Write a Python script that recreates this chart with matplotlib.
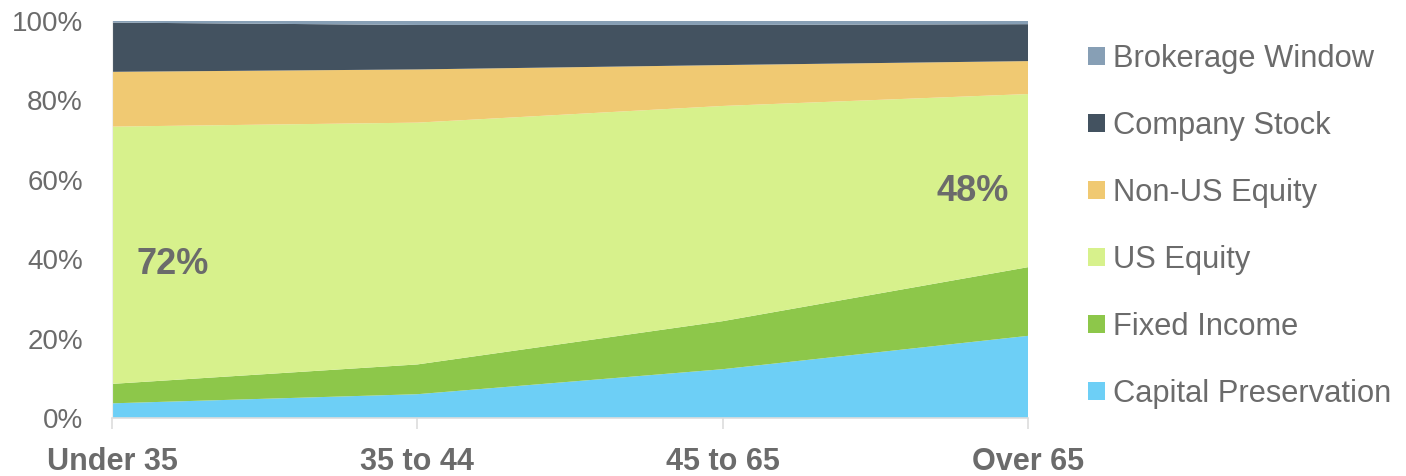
import matplotlib.pyplot as plt
from matplotlib.patches import Patch

# asset allocation by participant age band (share of balances, %)
age_bands = ["Under 35", "35 to 44", "45 to 65", "Over 65"]
capital_preservation = [3.7, 6.0, 12.3, 20.7]
fixed_income = [4.9, 7.5, 12.1, 17.3]
us_equity = [64.8, 60.9, 54.2, 43.6]
non_us_equity = [13.8, 13.4, 10.3, 8.3]
company_stock = [12.4, 11.2, 10.1, 9.3]
brokerage_window = [0.4, 1.0, 1.0, 0.8]

series_names = ["Capital Preservation", "Fixed Income", "US Equity",
                "Non-US Equity", "Company Stock", "Brokerage Window"]
colors = ["#6dcff6", "#8dc74a", "#d7f18c", "#f0c972", "#435260", "#879fb5"]

callouts = [("72%", 0.2, 38.6), ("48%", 2.82, 57.0)]

plt.rcParams["font.family"] = ["Liberation Sans", "DejaVu Sans"]
gray = "#6b6b6b"

fig = plt.figure(figsize=(14.06, 4.76), dpi=100)
ax = fig.add_axes([0.0797, 0.1218, 0.6515, 0.8341])

x = list(range(len(age_bands)))
ax.stackplot(x, capital_preservation, fixed_income, us_equity, non_us_equity,
             company_stock, brokerage_window, colors=colors, linewidth=0)

for txt, cx, cy in callouts:
    ax.text(cx, cy, txt, ha="center", va="center", fontsize=26,
            fontweight="bold", color=gray)

ax.set_xlim(0, 3)
ax.set_ylim(0, 100)
ax.set_xticks(x)
ax.set_xticklabels(age_bands, fontsize=22, fontweight="bold", color=gray)
ax.set_yticks([0, 20, 40, 60, 80, 100])
ax.set_yticklabels([f"{v}%" for v in [0, 20, 40, 60, 80, 100]],
                   fontsize=20, color=gray)
ax.tick_params(axis="x", length=8, width=1.2, color="#dddddd", pad=13)
ax.tick_params(axis="y", length=0, pad=21)

for side in ["top", "right"]:
    ax.spines[side].set_visible(False)
ax.spines["left"].set_color("#eeeeee")
ax.spines["bottom"].set_color("#dddddd")
ax.spines["bottom"].set_linewidth(1.2)

handles = [Patch(facecolor=c, edgecolor="none") for c in colors][::-1]
leg = fig.legend(handles, series_names[::-1], loc="upper left",
                 bbox_to_anchor=(0.7738, 0.908), frameon=False,
                 fontsize=22.2, labelcolor=gray, handlelength=0.55,
                 handleheight=0.55, handletextpad=0.26, labelspacing=1.2,
                 borderpad=0, borderaxespad=0)

fig.savefig("out.png", dpi=100)
